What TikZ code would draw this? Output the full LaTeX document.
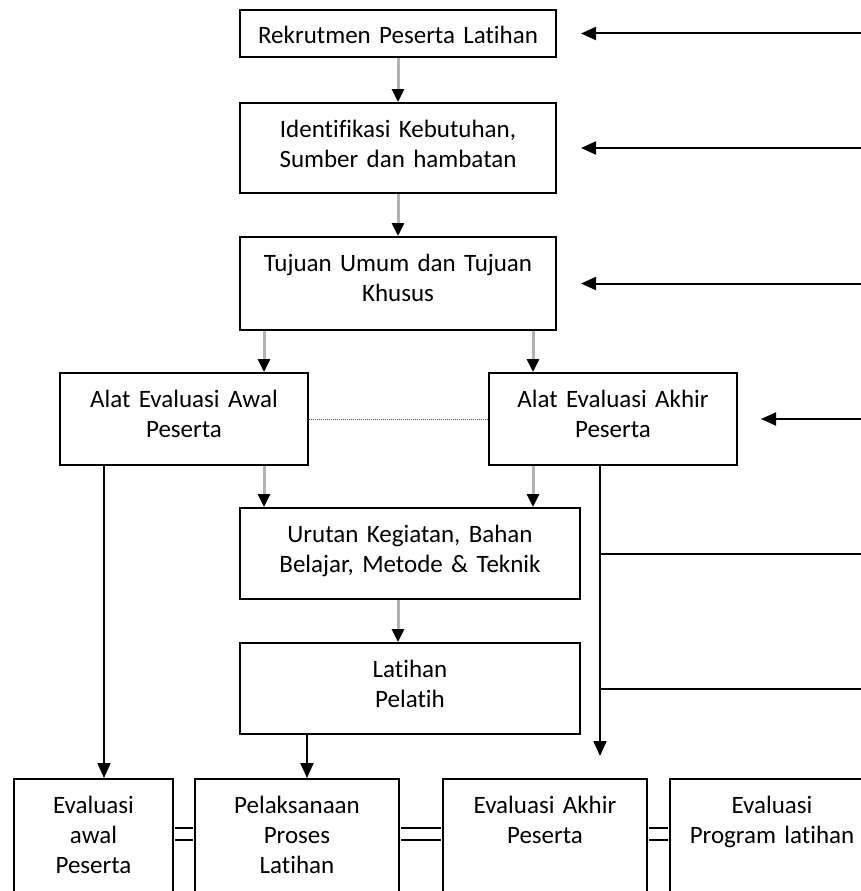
\documentclass[tikz,border=0pt]{standalone}
\usepackage{fontspec}
\setmainfont{Carlito}[Ligatures={NoCommon,NoRequired,NoContextual}, Contextuals=NoAlternate]
\usetikzlibrary{arrows.meta}

\begin{document}
\begin{tikzpicture}[x=1pt, y=-1pt,
  every node/.style={font=\fontsize{25}{30}\selectfont},
  box/.style={draw, line width=2pt, anchor=north west, inner sep=0pt, align=center, text height=34pt},
  arr/.style={line width=2pt, -{Triangle[length=15pt, width=13pt]}},
  grayarr/.style={draw=black!30, line width=3pt, -{Triangle[length=13pt, width=12pt, color=black]}},
  link/.style={double, line width=2pt, double distance=9.5pt, shorten <=1pt, shorten >=1pt}]

  \useasboundingbox (0,0) rectangle (861,891);

  % Lanes for the vertical connectors
  \coordinate (LANE1) at (104,0);
  \coordinate (LANE2) at (264,0);
  \coordinate (LANE3) at (307,0);
  \coordinate (LANE4) at (533,0);
  \coordinate (LANE5) at (600,0);
  \coordinate (EDGE) at (861,0);
  \coordinate (DROP) at (600,756);

  % Planning column
  \node[box, text width=316pt, text depth=13pt] (REKRUT) at (239,9) {Rekrutmen Peserta Latihan};
  \node[box, text width=316pt, text depth=56pt] (IDENT) at (239,102) {Identifikasi Kebutuhan,\\Sumber dan hambatan};
  \node[box, text width=316pt, text depth=59pt] (TUJUAN) at (239,236) {Tujuan Umum dan Tujuan\\Khusus};

  % Evaluation tools
  \node[box, text width=248pt, text depth=58pt] (AWAL) at (59,372) {Alat Evaluasi Awal\\Peserta};
  \node[box, text width=248pt, text depth=58pt] (AKHIR) at (488,372) {Alat Evaluasi Akhir\\Peserta};

  % Activities
  \node[box, text width=340pt, text depth=57pt] (URUTAN) at (239,507) {Urutan Kegiatan, Bahan\\Belajar, Metode \& Teknik};
  \node[box, text width=340pt, text depth=57pt] (LATIH) at (239,642) {Latihan\\Pelatih};

  % Bottom row
  \node[box, text width=159pt, text depth=96pt] (EVAWAL) at (13,778) {Evaluasi\\awal\\Peserta};
  \node[box, text width=204pt, text depth=96pt] (PROSES) at (194,778) {Pelaksanaan\\Proses\\Latihan};
  \node[box, text width=204pt, text depth=96pt] (EVAKHIR) at (442,778) {Evaluasi Akhir\\Peserta};
  \node[box, text width=204pt, text depth=96pt] (EVPROG) at (669,778) {Evaluasi\\Program latihan};

  % Gray flow arrows
  \draw[grayarr] (REKRUT) -- (IDENT);
  \draw[grayarr] (IDENT) -- (TUJUAN);
  \draw[grayarr] (TUJUAN.south -| LANE2) -- (AWAL.north -| LANE2);
  \draw[grayarr] (TUJUAN.south -| LANE4) -- (AKHIR.north -| LANE4);
  \draw[grayarr] (AWAL.south -| LANE2) -- (URUTAN.north -| LANE2);
  \draw[grayarr] (AKHIR.south -| LANE4) -- (URUTAN.north -| LANE4);
  \draw[grayarr] (URUTAN.south -| REKRUT) -- (LATIH.north -| REKRUT);

  % Black arrows down
  \draw[arr] (AWAL.south -| LANE1) -- (EVAWAL.north -| LANE1);
  \draw[arr] (LATIH.south -| LANE3) -- (PROSES.north -| LANE3);
  \draw[arr] (AKHIR.south -| LANE5) -- (DROP);
  \draw[line width=2pt] (URUTAN.east -| LANE5) -- (URUTAN.east -| EDGE);
  \draw[line width=2pt] (LATIH.east -| LANE5) -- (LATIH.east -| EDGE);

  % Feedback from the right
  \draw[arr] (REKRUT.east -| EDGE) -- ([xshift=24pt]REKRUT.east);
  \draw[arr] (IDENT.east -| EDGE) -- ([xshift=24pt]IDENT.east);
  \draw[arr] (TUJUAN.east -| EDGE) -- ([xshift=24pt]TUJUAN.east);
  \draw[arr] (AKHIR.east -| EDGE) -- ([xshift=23pt]AKHIR.east);

  % Dotted link and double links
  \draw[densely dotted, line width=1pt, black!70] (AWAL.east) -- (AKHIR.west);
  \draw[link] ([yshift=-56pt]EVAWAL.north east) -- ([yshift=-56pt]PROSES.north west);
  \draw[link] ([yshift=-56pt]PROSES.north east) -- ([yshift=-56pt]EVAKHIR.north west);
  \draw[link] ([yshift=-56pt]EVAKHIR.north east) -- ([yshift=-56pt]EVPROG.north west);
\end{tikzpicture}
\end{document}
